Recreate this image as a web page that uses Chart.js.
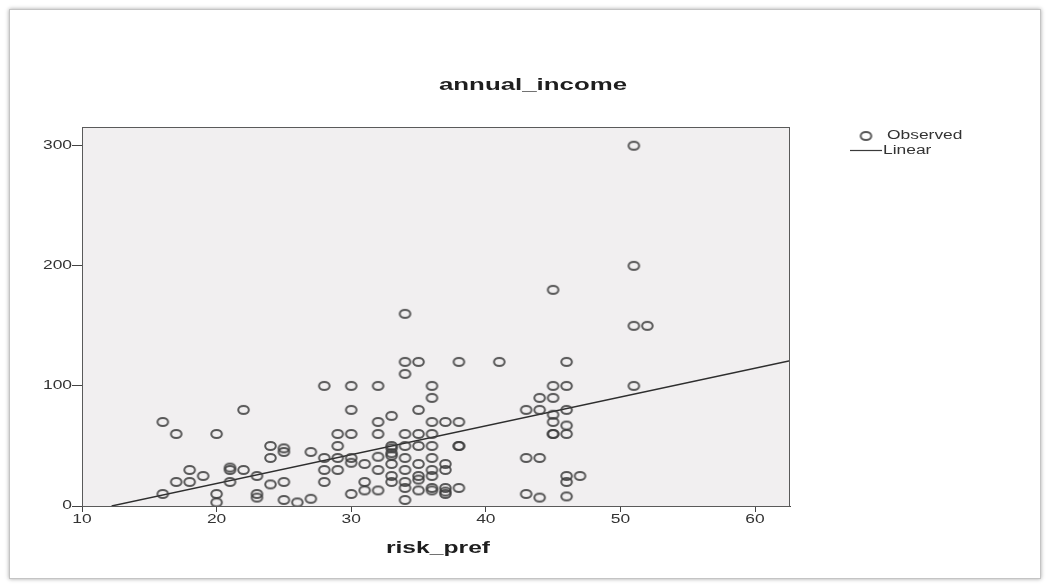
<!DOCTYPE html>
<html>
<head>
<meta charset="utf-8">
<script src="https://cdn.jsdelivr.net/npm/chart.js@4"></script>
<style>
  html, body { margin: 0; padding: 0; background: #fff; }
  #wrap { position: relative; width: 1048px; height: 585px; }
  #frame {
    position: absolute; left: 9px; top: 9px; width: 1030px; height: 568px;
    border: 1px solid #c4c4c4; box-shadow: 0 0 4px rgba(0,0,0,0.35);
    pointer-events: none;
  }
</style>
</head>
<body>
<div id="wrap">
  <canvas id="chart" width="1048" height="585"></canvas>
  <div id="frame"></div>
</div>
<script>
// observed cases (x = risk_pref, y = annual_income)
const riskPref = [
  16, 16,
  17, 17,
  18, 18,
  19,
  20, 20, 20,
  21, 21, 21,
  22, 22,
  23, 23, 23,
  24, 24, 24,
  25, 25, 25, 25,
  26,
  27, 27,
  28, 28, 28, 28,
  29, 29, 29, 29,
  30, 30, 30, 30, 30, 30,
  31, 31, 31,
  32, 32, 32, 32, 32, 32,
  33, 33, 33, 33, 33, 33, 33, 33,
  34, 34, 34, 34, 34, 34, 34, 34, 34, 34,
  35, 35, 35, 35, 35, 35, 35, 35,
  36, 36, 36, 36, 36, 36, 36, 36, 36, 36,
  37, 37, 37, 37, 37, 37,
  38, 38, 38, 38, 38,
  41,
  43, 43, 43,
  44, 44, 44, 44,
  45, 45, 45, 45, 45, 45, 45,
  46, 46, 46, 46, 46, 46, 46, 46,
  47,
  51, 51, 51, 51,
  52
];
const annualIncome = [
  70, 10,
  60, 20,
  30, 20,
  25,
  60, 10, 3,
  32, 30, 20,
  80, 30,
  25, 10, 7,
  50, 40, 18,
  48, 45, 20, 5,
  3,
  45, 6,
  100, 40, 30, 20,
  60, 50, 40, 30,
  100, 80, 60, 40, 36, 10,
  35, 20, 13,
  100, 70, 60, 41, 30, 13,
  75, 50, 48, 44, 42, 35, 25, 20,
  160, 120, 110, 60, 50, 40, 30, 20, 15, 5,
  120, 80, 60, 50, 35, 25, 22, 13,
  100, 90, 70, 60, 50, 40, 30, 25, 15, 13,
  70, 35, 30, 15, 12, 10,
  120, 70, 50, 50, 15,
  120,
  80, 40, 10,
  90, 80, 40, 7,
  180, 100, 90, 76, 70, 60, 60,
  120, 100, 80, 67, 60, 25, 20, 8,
  25,
  300, 200, 150, 100,
  150
];

// linear fit, ends as seen on the plot
const fitX = [12.2, 62.6];
const fitY = [0, 121];

const xTicks = [10, 20, 30, 40, 50, 60];
const yTicks = [0, 100, 200, 300];

const observed = riskPref.map((x, i) => ({ x: x, y: annualIncome[i] }));
const linear = fitX.map((x, i) => ({ x: x, y: fitY[i] }));

const FONT = '"Liberation Sans", Arial, sans-serif';
const STRETCH = 1.45; // the source picture is wider than tall

// open ellipse marker, like the stretched circles of the original
function ringMarker() {
  const c = document.createElement('canvas');
  c.width = 15; c.height = 12;
  const g = c.getContext('2d');
  g.strokeStyle = 'rgba(60,60,60,0.85)';
  g.lineWidth = 2;
  g.beginPath();
  g.ellipse(7.5, 6, 5.3, 4, 0, 0, Math.PI * 2);
  g.stroke();
  return c;
}
const marker = ringMarker();

function wideText(ctx, text, x, y, align, sx) {
  ctx.save();
  ctx.translate(x, y);
  ctx.scale(sx || STRETCH, 1);
  ctx.textAlign = align;
  ctx.fillText(text, 0, 0);
  ctx.restore();
}

const plotDecor = {
  id: 'plotDecor',
  beforeDraw(chart) {
    const { ctx, chartArea: a } = chart;
    ctx.save();
    ctx.fillStyle = '#f1eff0';
    ctx.fillRect(a.left, a.top, a.right - a.left, a.bottom - a.top);
    ctx.restore();
  },
  afterDraw(chart) {
    const { ctx, chartArea: a, scales } = chart;
    ctx.save();
    ctx.strokeStyle = '#5a5a5a';
    ctx.lineWidth = 1;
    ctx.strokeRect(a.left + 0.5, a.top + 0.5, a.right - a.left - 1, a.bottom - a.top);

    // tick labels, from the scales
    ctx.fillStyle = '#333';
    ctx.textBaseline = 'middle';
    ctx.font = '12px ' + FONT;
    scales.x.ticks.forEach(t => {
      wideText(ctx, String(t.value), scales.x.getPixelForValue(t.value), 520, 'center');
    });
    scales.y.ticks.forEach(t => {
      wideText(ctx, String(t.value), 72, scales.y.getPixelForValue(t.value), 'right');
    });

    // title and axis title
    ctx.fillStyle = '#1e1e1e';
    ctx.font = 'bold 17px ' + FONT;
    wideText(ctx, 'annual_income', 533, 85, 'center', 1.52);
    wideText(ctx, 'risk_pref', (a.left + a.right) / 2 + 2, 548, 'center');

    // legend
    ctx.font = '12px ' + FONT;
    ctx.fillStyle = '#333';
    ctx.drawImage(marker, 866 - 7.5, 136 - 6);
    wideText(ctx, 'Observed', 887, 136, 'left');
    ctx.strokeStyle = '#3a3a3a';
    ctx.lineWidth = 1.2;
    ctx.beginPath();
    ctx.moveTo(850, 150.5);
    ctx.lineTo(882, 150.5);
    ctx.stroke();
    wideText(ctx, 'Linear', 883, 151, 'left');
    ctx.restore();
  }
};

new Chart(document.getElementById('chart'), {
  type: 'scatter',
  data: {
    datasets: [
      {
        label: 'Observed',
        data: observed,
        pointStyle: marker,
        pointRadius: 5,
        pointHoverRadius: 5,
        borderWidth: 0,
        backgroundColor: 'rgba(0,0,0,0)'
      },
      {
        label: 'Linear',
        type: 'line',
        data: linear,
        showLine: true,
        pointRadius: 0,
        borderWidth: 1.4,
        borderColor: '#2e2e2e',
        fill: false
      }
    ]
  },
  options: {
    responsive: false,
    animation: false,
    layout: { padding: { left: 0, right: 258, top: 127, bottom: 19 } },
    plugins: {
      legend: { display: false },
      title: { display: false },
      tooltip: { enabled: false }
    },
    scales: {
      x: {
        type: 'linear',
        min: 10,
        max: 62.6,
        afterBuildTicks: s => { s.ticks = xTicks.map(v => ({ value: v })); },
        afterFit: s => { s.height = 60; },
        grid: { display: true, drawOnChartArea: false, tickLength: 6, color: '#444' },
        border: { display: true, color: '#444' },
        ticks: { display: false }
      },
      y: {
        type: 'linear',
        min: 0,
        max: 315.6,
        afterBuildTicks: s => { s.ticks = yTicks.map(v => ({ value: v })); },
        afterFit: s => { s.width = 82; },
        grid: { display: true, drawOnChartArea: false, tickLength: 10, color: '#444' },
        border: { display: true, color: '#444' },
        ticks: { display: false }
      }
    }
  },
  plugins: [plotDecor]
});
</script>
</body>
</html>
